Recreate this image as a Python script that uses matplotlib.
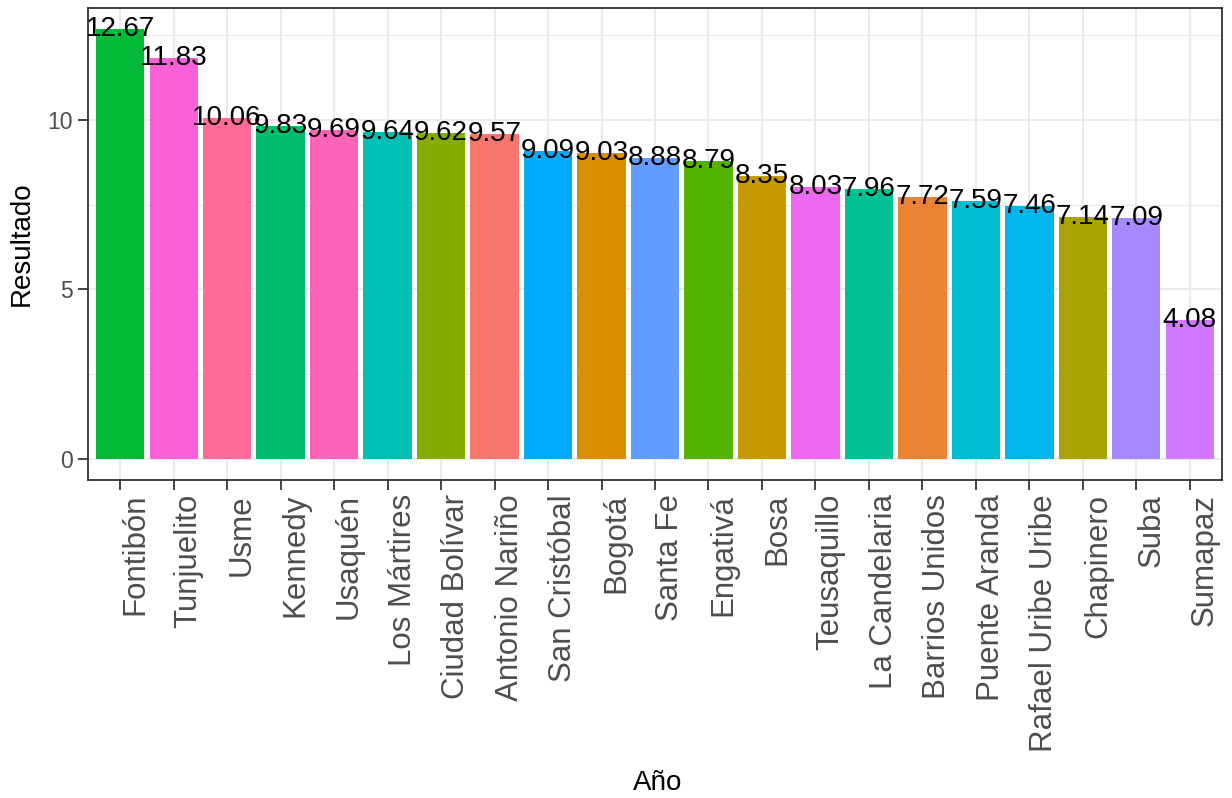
import numpy as np
import matplotlib
matplotlib.use("Agg")
import matplotlib.pyplot as plt
from matplotlib.ticker import MultipleLocator

localidades = ["Fontibón", "Tunjuelito", "Usme", "Kennedy", "Usaquén", "Los Mártires",
               "Ciudad Bolívar", "Antonio Nariño", "San Cristóbal", "Bogotá", "Santa Fe",
               "Engativá", "Bosa", "Teusaquillo", "La Candelaria", "Barrios Unidos",
               "Puente Aranda", "Rafael Uribe Uribe", "Chapinero", "Suba", "Sumapaz"]
resultado = [12.67, 11.83, 10.06, 9.83, 9.69, 9.64, 9.62, 9.57, 9.09, 9.03, 8.88,
             8.79, 8.35, 8.03, 7.96, 7.72, 7.59, 7.46, 7.14, 7.09, 4.08]


def hcl_hex(h, c=100, l=65):
    # polar LUV -> sRGB, like R's hcl()
    hr = np.deg2rad(h)
    u, v = c * np.cos(hr), c * np.sin(hr)
    Xn, Yn, Zn = 95.047, 100.0, 108.883
    un = 4 * Xn / (Xn + 15 * Yn + 3 * Zn)
    vn = 9 * Yn / (Xn + 15 * Yn + 3 * Zn)
    Y = Yn * ((l + 16) / 116) ** 3
    up = u / (13 * l) + un
    vp = v / (13 * l) + vn
    X = Y * 9 * up / (4 * vp)
    Z = Y * (12 - 3 * up - 20 * vp) / (4 * vp)
    X, Y, Z = X / 100, Y / 100, Z / 100
    r = 3.240479 * X - 1.537150 * Y - 0.498535 * Z
    g = -0.969256 * X + 1.875992 * Y + 0.041556 * Z
    b = 0.055648 * X - 0.204043 * Y + 1.057311 * Z
    out = []
    for ch in (r, g, b):
        ch = 1.055 * ch ** (1 / 2.4) - 0.055 if ch > 0.0031308 else 12.92 * ch
        out.append(min(max(ch, 0), 1))
    return tuple(out)


# ggplot default hue palette, levels in alphabetical order
niveles = sorted(localidades)
hues = np.linspace(15, 375, len(niveles) + 1)[:-1]
paleta = {n: hcl_hex(h) for n, h in zip(niveles, hues)}
colores = [paleta[n] for n in localidades]

plt.rcParams['font.family'] = ['Liberation Sans', 'DejaVu Sans']

fig = plt.figure(figsize=(12.32, 7.98), dpi=100)
ax = fig.add_axes([88 / 1232, 1 - 480 / 798, (1222 - 88) / 1232, (480 - 8) / 798])

x = np.arange(len(localidades))
ax.bar(x, resultado, width=0.9, color=colores, zorder=3)
for xi, val in zip(x, resultado):
    ax.text(xi, val, f"{val:.2f}", ha='center', va='center', fontsize=20, color='black', zorder=4)

ax.set_xlim(-0.6, len(localidades) - 0.4)
top = max(resultado)
ax.set_ylim(-0.05 * top, top * 1.05)
ax.yaxis.set_major_locator(MultipleLocator(5))
ax.yaxis.set_minor_locator(MultipleLocator(2.5))
ax.set_xticks(x)
# rotated like ggplot angle=90: text top sits at the tick, body to the right
ax.set_xticklabels(localidades, rotation=90, rotation_mode='anchor', ha='right', va='top')

ax.grid(which='major', color='#EBEBEB', lw=1.5, zorder=0)
ax.grid(which='minor', axis='y', color='#EBEBEB', lw=0.8, zorder=0)
ax.tick_params(which='minor', length=0)
ax.tick_params(which='major', length=7, width=1.3, color='#333333',
               labelcolor='#4D4D4D', pad=4)
ax.tick_params(axis='y', labelsize=16.5)
ax.tick_params(axis='x', labelsize=22.5, pad=3)
for s in ax.spines.values():
    s.set_color('#333333')
    s.set_linewidth(1.3)

fig.text(658 / 1232, 1 - 783 / 798, "Año", fontsize=20, ha='center', va='center')
fig.text(22 / 1232, 1 - 244 / 798, "Resultado", fontsize=20, ha='center', va='center',
         rotation=90)

fig.savefig("out.png", dpi=100, facecolor='white')
